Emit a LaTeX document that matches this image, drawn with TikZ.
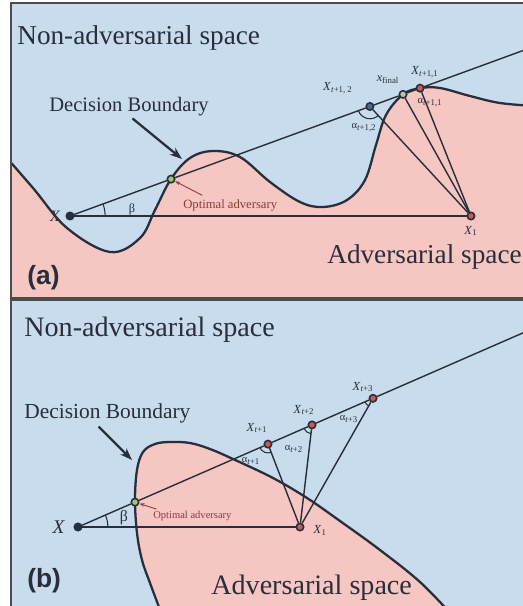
\documentclass[tikz,border=0pt]{standalone}
\usepackage{fontspec}
\setmainfont{Liberation Serif}
\newfontfamily\panelfont{Liberation Sans}
\usepackage{xcolor}
\usetikzlibrary{calc, angles, arrows.meta, positioning}
\definecolor{nonadv}{RGB}{200,220,238}
\definecolor{adv}{RGB}{246,198,194}
\definecolor{ink}{RGB}{40,46,58}
\definecolor{optred}{RGB}{140,60,55}
\definecolor{ptred}{RGB}{200,90,80}
\definecolor{ptgreen}{RGB}{150,200,110}
\definecolor{ptblue}{RGB}{70,110,140}
\definecolor{ptsage}{RGB}{185,200,160}
\definecolor{ptnavy}{RGB}{30,50,80}
\newcommand{\xs}[1]{\textit{X}\textsubscript{#1}}

\begin{document}
\begin{tikzpicture}[x=0.02cm, y=-0.02cm, every node/.style={text=ink},
			pt/.style={circle, draw=ink, line width=0.9pt, inner sep=0pt, minimum size=4.2pt},
			bd/.style={draw=ink, line width=1.3pt},
			ln/.style={ink, line width=0.8pt},
			frm/.style={draw=black!70, line width=1pt},
			txt/.style={anchor=west, inner sep=0pt},
			sm/.style={font=\fontsize{7}{8}\selectfont, inner sep=0pt},
			ang/.style={draw=ink, line width=0.6pt},
			dbarrow/.style={-{Stealth[length=7pt, width=5pt]}, ink, line width=1.3pt},
			optarrow/.style={-{Stealth[length=3pt, width=2pt]}, optred, line width=0.5pt}]
	\useasboundingbox (0,0) rectangle (522,606);
	% (a) wavy boundary
	\begin{scope}
		\clip (11,3) rectangle (540,298);
		\fill[nonadv] (0,0) rectangle (540,300);
		\path[bd, fill=adv] plot[smooth, tension=0.6] coordinates {(0,150) (33,188) (67,228) (110,252) (140,238) (155,210) (171,179) (190,158) (213,151) (240,157) (270,182) (300,202) (323,207) (347,200) (365,180) (376,145) (386,115) (403,94.4) (420,88.2) (440,88) (470,96) (500,103) (535,106)}
			-- (560,106) -- (560,330) -- (-20,330) -- (-20,150) -- cycle;
	\end{scope}
	\draw[frm] (11,3) rectangle (540,298);
	\node[txt, font=\fontsize{15.5}{18}\selectfont] (nasa) at (17,38) {Non-adversarial space};
	\node[txt, font=\fontsize{15.5}{18}\selectfont] (aasa) at (327,257) {Adversarial space};
	\node[txt, font=\fontsize{11.7}{14}\selectfont] (dba) at (49,107) {Decision Boundary};
	\node[txt, font=\panelfont\bfseries\fontsize{15}{18}\selectfont] (laba) at (27,278) {(a)};
	\node[pt, fill=ptnavy] (Xa) at (70,216) {};
	\node[pt, fill=ptred] (X1a) at (471,216) {};
	\coordinate (Ea) at (530,48);
	\coordinate (dbta) at (182,159);
	\node[pt, fill=ptgreen] (opta) at ($(Xa)!0.2196!(Ea)$) {};
	\node[pt, fill=ptblue] (p2a) at ($(Xa)!0.652!(Ea)$) {};
	\node[pt, fill=ptsage] (pfa) at ($(Xa)!0.724!(Ea)$) {};
	\node[pt, fill=ptred] (p1a) at ($(Xa)!0.761!(Ea)$) {};
	\draw[ln] (Xa) -- (X1a);
	\draw[ln] (Xa) -- (opta) -- (p2a) -- (pfa) -- (p1a) -- (Ea);
	\foreach \p in {p2a, pfa, p1a}
		\draw[ln] (X1a) -- (\p);
	\pic[ang, angle radius=20pt] {angle = X1a--Xa--opta};
	\pic[ang, angle radius=7pt] {angle = Xa--p2a--X1a};
	\node[sm, left=3pt of Xa, font=\fontsize{9}{10}\selectfont\itshape] (Xla) {X};
	\node[sm, below=3pt of X1a] (X1la) {\xs{1}};
	\node[sm] (betaa) at (132,209) {β};
	\node[sm] (p2la) at (338,88) {\xs{\textit{t}+1, 2}};
	\node[sm] (pfla) at (388,80) {\textit{x}\textsubscript{final}};
	\node[sm] (p1la) at (425,72) {\xs{\textit{t}+1,1}};
	\node[sm, font=\fontsize{6}{7}\selectfont] (a2la) at (364,128) {α\textsubscript{\textit{t}+1,2}};
	\node[sm, font=\fontsize{6}{7}\selectfont] (a1la) at (430,103) {α\textsubscript{\textit{t}+1,1}};
	\node[txt, font=\fontsize{7.2}{8}\selectfont, text=optred] (oaa) at (183,205) {Optimal adversary};
	\draw[dbarrow] ([xshift=2pt, yshift=-1pt]dba.south) -- (dbta);
	\draw[optarrow] ([xshift=11pt, yshift=2pt]oaa.north west) -- (opta);
	% (b) closed boundary
	\begin{scope}
		\clip (11,300) rectangle (540,606);
		\fill[nonadv] (0,299) rectangle (540,610);
		\path[bd, fill=adv] plot[smooth, tension=0.6] coordinates {(162,615) (150,583) (142,560) (137,533) (135,500) (137,470) (143,452) (155,444) (170,442) (190,443) (210,449) (233,459) (273,478) (307,498) (340,521) (380,550) (420,582) (452,615)}
			-- (470,640) -- (150,640) -- cycle;
	\end{scope}
	\draw[frm] (11,300) rectangle (540,620);
	\node[txt, font=\fontsize{16}{19}\selectfont] (nasb) at (24,330) {Non-adversarial space};
	\node[txt, font=\fontsize{16}{19}\selectfont] (aasb) at (211,588) {Adversarial space};
	\node[txt, font=\fontsize{12.2}{14}\selectfont] (dbb) at (24,413) {Decision Boundary};
	\node[txt, font=\panelfont\bfseries\fontsize{15}{18}\selectfont] (labb) at (27,581) {(b)};
	\node[pt, fill=ptnavy] (Xb) at (78,527) {};
	\node[pt, fill=ptred] (X1b) at (300,527) {};
	\coordinate (Eb) at (525,332);
	\coordinate (dbtb) at (132,460);
	\node[pt, fill=ptgreen] (optb) at ($(Xb)!0.1275!(Eb)$) {};
	\node[pt, fill=ptred] (q1b) at ($(Xb)!0.425!(Eb)$) {};
	\node[pt, fill=ptred] (q2b) at ($(Xb)!0.5235!(Eb)$) {};
	\node[pt, fill=ptred] (q3b) at ($(Xb)!0.66!(Eb)$) {};
	\draw[ln] (Xb) -- (X1b);
	\draw[ln] (Xb) -- (optb) -- (q1b) -- (q2b) -- (q3b) -- (Eb);
	\foreach \q in {q1b, q2b, q3b} {
		\draw[ln] (X1b) -- (\q);
		\pic[ang, angle radius=5pt] {angle = Xb--\q--X1b};
	}
	\pic[ang, angle radius=17pt] {angle = X1b--Xb--optb};
	\node[sm, left=5pt of Xb, font=\fontsize{11}{12}\selectfont\itshape] (Xlb) {X};
	\node[sm, right=5pt of X1b, yshift=-2pt] (X1lb) {\xs{1}};
	\node[sm, font=\fontsize{9}{10}\selectfont] (betab) at (124,518) {β};
	\node[sm] (q1lb) at (257,428) {\xs{\textit{t}+1}};
	\node[sm] (q2lb) at (304,410) {\xs{\textit{t}+2}};
	\node[sm] (q3lb) at (363,387) {\xs{\textit{t}+3}};
	\node[sm, font=\fontsize{6}{7}\selectfont] (a1lb) at (251,461) {α\textsubscript{\textit{t}+1}};
	\node[sm, font=\fontsize{6}{7}\selectfont] (a2lb) at (294,449) {α\textsubscript{\textit{t}+2}};
	\node[sm, font=\fontsize{6}{7}\selectfont] (a3lb) at (349,419) {α\textsubscript{\textit{t}+3}};
	\node[txt, font=\fontsize{6}{7}\selectfont, text=optred] (oab) at (153,516) {Optimal adversary};
	\draw[dbarrow] ([xshift=-5pt, yshift=-2pt]dbb.south) -- (dbtb);
	\draw[optarrow] ([xshift=2pt, yshift=1pt]oab.north west) -- (optb);
\end{tikzpicture}
\end{document}
